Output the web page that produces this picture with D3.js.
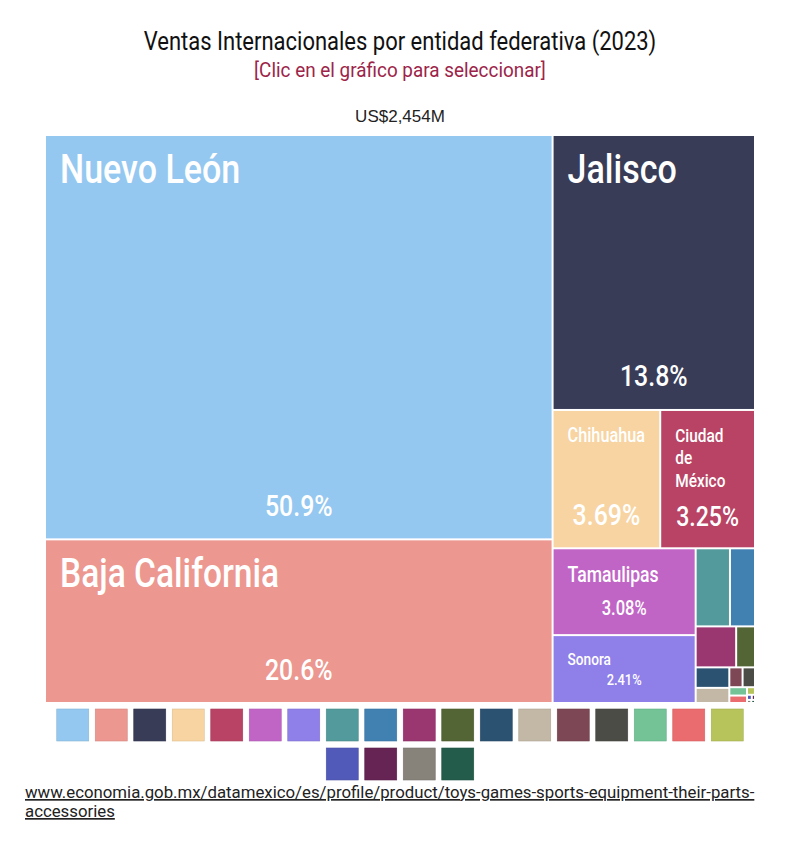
<!DOCTYPE html>
<html>
<head>
<meta charset="utf-8">
<script src="https://cdn.jsdelivr.net/npm/d3@7"></script>
<style>
  body { margin: 0; background: #ffffff; }
  svg { display: block; }
</style>
</head>
<body>
<svg id="chart" width="800" height="850"></svg>
<script>
// ---------------- DATA ----------------
const titleText = "Ventas Internacionales por entidad federativa (2023)";
const subtitleText = "[Clic en el gráfico para seleccionar]";
const sourceUrl = "www.economia.gob.mx/datamexico/es/profile/product/toys-games-sports-equipment-their-parts-accessories";

const states = [
  "Nuevo León", "Baja California", "Jalisco", "Chihuahua", "Ciudad de México",
  "Tamaulipas", "Sonora", "Coahuila", "Estado de México", "Guanajuato",
  "Querétaro", "San Luis Potosí", "Aguascalientes", "Puebla", "Yucatán",
  "Sinaloa", "Durango", "Michoacán", "Quintana Roo", "Veracruz",
  "Morelos", "Baja California Sur"
];
// Sales in millions of US dollars
const sales = [
  1249.1, 505.5, 338.7, 90.6, 79.8,
  75.6, 59.1, 16.3, 11.9, 10.1,
  4.7, 4.2, 3.1, 1.6, 1.5,
  0.9, 0.8, 0.37, 0.15, 0.1,
  0.08, 0.07
];
const stateColors = [
  "#95c8f0", "#ec978f", "#393c57", "#f7d4a2", "#b94364",
  "#c065c6", "#8f7fe9", "#529a9b", "#4181b2", "#9a3670",
  "#536534", "#2c5272", "#c3b8a6", "#7d4755", "#4c4c47",
  "#73c397", "#eb6c6e", "#b7c45b", "#525ab9", "#652454",
  "#87827a", "#245c4b"
];

// ---------------- LAYOUT ----------------
const W = 800, H = 850;
const tm = { x: 46, y: 136, w: 708, h: 566 };
const labelFont = "Roboto, 'Noto Sans', sans-serif";
const SX = 0.83; // horizontal condensing of the label font

const svg = d3.select("#chart");

const records = states.map((s, i) => ({ name: s, value: sales[i], color: stateColors[i] }));
const total = d3.sum(sales);

// Title block
svg.append("text")
  .attr("transform", `translate(${W / 2},50) scale(0.88,1)`)
  .attr("text-anchor", "middle")
  .attr("font-family", labelFont)
  .attr("font-size", 25)
  .attr("fill", "#111")
  .text(titleText);

svg.append("text")
  .attr("transform", `translate(${W / 2},77) scale(0.9,1)`)
  .attr("text-anchor", "middle")
  .attr("font-family", labelFont)
  .attr("font-size", 21)
  .attr("fill", "#9d2449")
  .text(subtitleText);

svg.append("text")
  .attr("x", W / 2).attr("y", 122)
  .attr("text-anchor", "middle")
  .attr("font-family", "'Liberation Sans', Arial, sans-serif")
  .attr("font-size", 17)
  .attr("fill", "#222")
  .text("US$" + d3.format(",.0f")(total) + "M");

// Measurement helper
const measurer = svg.append("text")
  .attr("font-family", labelFont)
  .attr("font-weight", 500)
  .attr("visibility", "hidden");
function textWidth(str, size) {
  measurer.attr("font-size", size).text(str);
  return measurer.node().getComputedTextLength() * SX;
}
function wrapWords(str, size, maxW) {
  const words = str.split(" ");
  const lines = [];
  let cur = "";
  words.forEach(w => {
    const test = cur ? cur + " " + w : w;
    if (cur && textWidth(test, size) > maxW) { lines.push(cur); cur = w; }
    else cur = test;
  });
  if (cur) lines.push(cur);
  return lines;
}

// Treemap
const root = d3.hierarchy({ children: records })
  .sum(d => d.value || 0)
  .sort((a, b) => b.value - a.value);

d3.treemap()
  .tile(d3.treemapSquarify)
  .size([tm.w, tm.h])
  .paddingInner(2)
  .round(false)(root);

const g = svg.append("g").attr("transform", `translate(${tm.x},${tm.y})`);

const leaves = g.selectAll("g.cell")
  .data(root.leaves())
  .join("g")
  .attr("class", "cell");

leaves.append("rect")
  .attr("x", d => d.x0)
  .attr("y", d => d.y0)
  .attr("width", d => Math.max(0, d.x1 - d.x0))
  .attr("height", d => Math.max(0, d.y1 - d.y0))
  .attr("fill", d => d.data.color);

const pct = d3.format(".3p");

leaves.each(function (d) {
  const w = d.x1 - d.x0, h = d.y1 - d.y0;
  if (w < 60 || h < 50) return;
  const sel = d3.select(this);
  const maxW = w - 28;

  // Name: fit size
  let size = Math.min(41, h * 0.25);
  let lines = [d.data.name];
  while (size > 8) {
    lines = wrapWords(d.data.name, size, maxW);
    const fits = lines.every(l => textWidth(l, size) <= maxW) && lines.length * size * 1.2 <= h * 0.5;
    if (fits) break;
    size -= 0.5;
  }
  const firstBase = d.y0 + 17.5 + size * 0.711;
  lines.forEach((l, i) => {
    sel.append("text")
      .attr("transform", `translate(${d.x0 + 14},${firstBase + i * size * 1.22}) scale(${SX},1)`)
      .attr("font-family", labelFont)
      .attr("font-weight", 500)
      .attr("font-size", size)
      .attr("fill", "#ffffff")
      .text(l);
  });

  // Share
  const sSize = Math.min(30, 0.3 * w, 0.235 * h);
  sel.append("text")
    .attr("transform", `translate(${(d.x0 + d.x1) / 2},${d.y1 - (sSize * 0.35 + 12)}) scale(${SX},1)`)
    .attr("text-anchor", "middle")
    .attr("font-family", labelFont)
    .attr("font-weight", 500)
    .attr("font-size", sSize)
    .attr("fill", "#ffffff")
    .text(pct(d.value / total));
});

// Legend
const sq = 32, gap = 6.5;
const perRow = Math.floor((tm.w + gap) / (sq + gap));
const legendTop = 709;
const rows = d3.groups(records.map((r, i) => ({ ...r, i })), r => Math.floor(r.i / perRow));
rows.forEach(([rowIdx, items]) => {
  const rowW = items.length * sq + (items.length - 1) * gap;
  const startX = W / 2 - rowW / 2;
  svg.append("g")
    .selectAll("rect")
    .data(items)
    .join("rect")
    .attr("x", (d, j) => startX + j * (sq + gap))
    .attr("y", legendTop + rowIdx * (sq + 7))
    .attr("width", sq)
    .attr("height", sq)
    .attr("fill", d => d.color)
    .attr("stroke", d => d3.color(d.color).darker(0.3))
    .attr("stroke-width", 0.6);
});

// Source link (wrapped)
const linkSize = 16.8, linkMaxW = 760;
const linkMeasure = svg.append("text").attr("font-family", labelFont).attr("font-size", linkSize).attr("visibility", "hidden");
const tokens = sourceUrl.match(/[^\-\/]+[\-\/]?/g);
const linkLines = [];
let curLine = "";
tokens.forEach(t => {
  const test = curLine + t;
  linkMeasure.text(test);
  if (curLine && linkMeasure.node().getComputedTextLength() > linkMaxW) { linkLines.push(curLine); curLine = t; }
  else curLine = test;
});
if (curLine) linkLines.push(curLine);
linkMeasure.remove();
linkLines.forEach((l, i) => {
  svg.append("text")
    .attr("x", 25)
    .attr("y", 798 + i * 19)
    .attr("font-family", labelFont)
    .attr("font-size", linkSize)
    .attr("fill", "#222")
    .attr("text-decoration", "underline")
    .text(l);
});
measurer.remove();
</script>
</body>
</html>
